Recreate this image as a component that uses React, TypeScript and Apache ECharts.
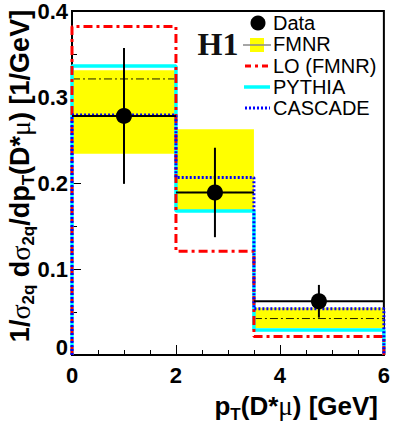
import React, { useEffect, useRef } from 'react';
import * as echarts from 'echarts';

const binEdges = [0, 2, 3.5, 6];
const binCenters = [1, 2.75, 4.75];
const dataValues = [0.278, 0.189, 0.0625];
const dataErrors = [0.079, 0.052, 0.019];
const fmnrLow = [0.234, 0.169, 0.0315];
const fmnrHigh = [0.331, 0.2625, 0.055];
const fmnrCentral = [0.321, 0.189, 0.0424];
const loFmnr = [0.382, 0.1205, 0.0216];
const pythia = [0.336, 0.1675, 0.029];
const cascade = [0.279, 0.2065, 0.0538];
const xTickLabels = ['0', '2', '4', '6'];
const yTickLabels = ['0', '0.1', '0.2', '0.3', '0.4'];

const SANS = '"Liberation Sans", Arial, Helvetica, sans-serif';
const SERIF = '"Liberation Serif", "Times New Roman", serif';

function stepPoints(vals: number[]) {
  const pts: number[][] = [[binEdges[0], 0]];
  vals.forEach((v, i) => {
    pts.push([binEdges[i], v]);
    pts.push([binEdges[i + 1], v]);
  });
  pts.push([binEdges[binEdges.length - 1], 0]);
  return pts;
}

export default function App() {
  const ref = useRef<HTMLDivElement>(null);
  useEffect(() => {
    if (!ref.current) return;
    const chart = echarts.init(ref.current, null, { renderer: 'svg' });

    const bandData = fmnrLow.map((lo, i) => [binEdges[i], binEdges[i + 1], lo, fmnrHigh[i]]);
    const centralData = fmnrCentral.map((v, i) => [binEdges[i], binEdges[i + 1], v]);
    const errData = dataValues.map((v, i) => [binEdges[i], binEdges[i + 1], binCenters[i], v, dataErrors[i]]);

    const legendFont = '20px ' + SANS;

    const option: any = {
      animation: false,
      grid: {
        left: 72, right: 5, top: 3, bottom: 73,
        show: true, borderColor: '#000', borderWidth: 2, backgroundColor: 'transparent',
      },
      xAxis: {
        type: 'value', min: 0, max: 6, interval: 2,
        axisLine: { show: true, lineStyle: { color: '#000', width: 2 } },
        axisTick: { show: true, inside: true, length: 10, lineStyle: { color: '#000', width: 1 } },
        minorTick: { show: true, splitNumber: 4, length: 5, lineStyle: { color: '#000', width: 1 } },
        splitLine: { show: false },
        axisLabel: {
          margin: 9, color: '#000', fontFamily: SANS, fontWeight: 'bold', fontSize: 22,
          formatter: (v: number) => xTickLabels[Math.round(v / 2)] ?? '',
        },
      },
      yAxis: {
        type: 'value', min: 0, max: 0.4, interval: 0.1,
        axisLine: { show: true, lineStyle: { color: '#000', width: 2 } },
        axisTick: { show: true, inside: true, length: 9, lineStyle: { color: '#000', width: 1 } },
        minorTick: { show: true, splitNumber: 2, length: 5, lineStyle: { color: '#000', width: 1 } },
        splitLine: { show: false },
        axisLabel: {
          margin: 4, color: '#000', fontFamily: SANS, fontWeight: 'bold', fontSize: 22,
          formatter: (v: number) => {
            const idx = Math.round(v * 10);
            const t = yTickLabels[idx] ?? '';
            return idx === 0 ? '{z|' + t + '}' : t;
          },
          rich: { z: { fontFamily: SANS, fontWeight: 'bold', fontSize: 22, color: '#000', padding: [0, 0, 16, 0] } },
        },
      },
      series: [
        {
          type: 'custom',
          name: 'FMNR band',
          data: bandData,
          encode: { x: [0, 1], y: [2, 3] },
          z: 1,
          renderItem: (params: any, api: any) => {
            const p1 = api.coord([api.value(0), api.value(3)]);
            const p2 = api.coord([api.value(1), api.value(2)]);
            return {
              type: 'rect',
              shape: { x: p1[0], y: p1[1], width: p2[0] - p1[0], height: p2[1] - p1[1] },
              style: { fill: '#ffff00' },
            };
          },
        },
        {
          type: 'custom',
          name: 'FMNR central',
          data: centralData,
          encode: { x: [0, 1], y: 2 },
          z: 2,
          renderItem: (params: any, api: any) => {
            const a = api.coord([api.value(0), api.value(2)]);
            const b = api.coord([api.value(1), api.value(2)]);
            return {
              type: 'line',
              shape: { x1: a[0], y1: a[1], x2: b[0], y2: b[1] },
              style: { stroke: '#222200', lineWidth: 1, lineDash: [8, 3, 2, 3] },
            };
          },
        },
        {
          type: 'line', name: 'PYTHIA', data: stepPoints(pythia), symbol: 'none', z: 3,
          lineStyle: { color: '#00ffff', width: 3.5 },
        },
        {
          type: 'line', name: 'LO (FMNR)', data: stepPoints(loFmnr), symbol: 'none', z: 4,
          lineStyle: { color: '#ff0000', width: 3, type: [9, 4, 3, 4] },
        },
        {
          type: 'line', name: 'CASCADE', data: stepPoints(cascade), symbol: 'none', z: 5,
          lineStyle: { color: '#0000ff', width: 3, type: [2, 2] },
        },
        {
          type: 'custom',
          name: 'Data errors',
          data: errData,
          encode: { x: [0, 1, 2], y: 3 },
          z: 6,
          renderItem: (params: any, api: any) => {
            const v = api.value(3);
            const e = api.value(4);
            const l = api.coord([api.value(0), v]);
            const r = api.coord([api.value(1), v]);
            const t = api.coord([api.value(2), v + e]);
            const b = api.coord([api.value(2), v - e]);
            return {
              type: 'group',
              children: [
                { type: 'line', shape: { x1: l[0], y1: l[1], x2: r[0], y2: r[1] }, style: { stroke: '#000', lineWidth: 2 } },
                { type: 'line', shape: { x1: t[0], y1: t[1], x2: b[0], y2: b[1] }, style: { stroke: '#000', lineWidth: 2 } },
              ],
            };
          },
        },
        {
          type: 'scatter', name: 'Data', z: 7,
          data: dataValues.map((v, i) => [binCenters[i], v]),
          symbol: 'circle', symbolSize: 16,
          itemStyle: { color: '#000', opacity: 1 },
        },
      ],
      graphic: [
        {
          type: 'text', x: 218, y: 44, z: 100,
          style: { text: 'H1', font: 'bold 32px ' + SERIF, fill: '#111', align: 'center', verticalAlign: 'middle' },
        },
        { type: 'circle', shape: { cx: 258, cy: 23, r: 7.5 }, style: { fill: '#000' }, z: 100 },
        { type: 'text', x: 273, y: 23, z: 100, style: { text: 'Data', font: legendFont, fill: '#000', verticalAlign: 'middle' } },
        { type: 'rect', shape: { x: 250, y: 38, width: 14, height: 14 }, style: { fill: '#ffff00' }, z: 100 },
        { type: 'line', shape: { x1: 243, y1: 45, x2: 271, y2: 45 }, style: { stroke: '#888', lineWidth: 1.5 }, z: 101 },
        { type: 'text', x: 273, y: 44, z: 100, style: { text: 'FMNR', font: legendFont, fill: '#000', verticalAlign: 'middle' } },
        { type: 'line', shape: { x1: 245, y1: 66, x2: 270, y2: 66 }, style: { stroke: '#ff0000', lineWidth: 3, lineDash: [6, 4, 3, 4] }, z: 100 },
        { type: 'text', x: 273, y: 66, z: 100, style: { text: 'LO (FMNR)', font: legendFont, fill: '#000', verticalAlign: 'middle' } },
        { type: 'line', shape: { x1: 244, y1: 87, x2: 270, y2: 87 }, style: { stroke: '#00ffff', lineWidth: 3.5 }, z: 100 },
        { type: 'text', x: 273, y: 87, z: 100, style: { text: 'PYTHIA', font: legendFont, fill: '#000', verticalAlign: 'middle' } },
        { type: 'line', shape: { x1: 245, y1: 108, x2: 270, y2: 108 }, style: { stroke: '#0000ff', lineWidth: 3, lineDash: [2, 2] }, z: 100 },
        { type: 'text', x: 273, y: 108, z: 100, style: { text: 'CASCADE', font: legendFont, fill: '#000', verticalAlign: 'middle' } },
        {
          type: 'text', x: 20, y: 176, rotation: Math.PI / 2, z: 100,
          style: {
            text: '{b|1/}{g|σ}{s|2q}{b| d}{g|σ}{s|2q}{b|/dp}{s|T}{b|(D*}{g|μ}{b|) [1/GeV]}',
            align: 'center', verticalAlign: 'middle',
            rich: {
              b: { font: 'bold 27px ' + SANS, fill: '#000', lineHeight: 34, verticalAlign: 'middle' },
              g: { font: '28px ' + SERIF, fill: '#000', lineHeight: 34, verticalAlign: 'middle' },
              s: { font: 'bold 17px ' + SANS, fill: '#000', lineHeight: 17, verticalAlign: 'bottom' },
            },
          },
        },
        {
          type: 'text', x: 378, y: 406, z: 100,
          style: {
            text: '{b|p}{s|T}{b|(D*}{g|μ}{b|) [GeV]}',
            align: 'right', verticalAlign: 'middle',
            rich: {
              b: { font: 'bold 26px ' + SANS, fill: '#000', lineHeight: 34, verticalAlign: 'middle' },
              g: { font: '27px ' + SERIF, fill: '#000', lineHeight: 34, verticalAlign: 'middle' },
              s: { font: 'bold 17px ' + SANS, fill: '#000', lineHeight: 17, verticalAlign: 'bottom' },
            },
          },
        },
      ],
    };
    chart.setOption(option);
    return () => chart.dispose();
  }, []);
  return <div ref={ref} style={{ width: 393, height: 428, position: 'absolute', left: 0, top: 0 }} />;
}
